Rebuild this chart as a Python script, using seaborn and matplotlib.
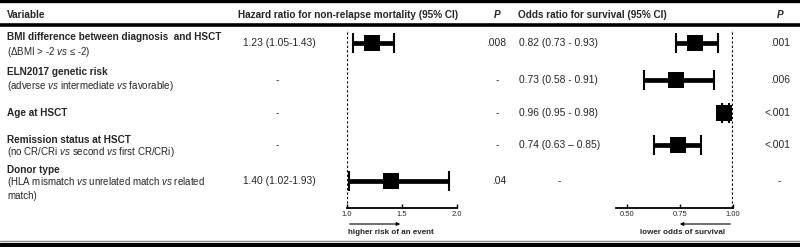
import numpy as np
import pandas as pd
import matplotlib
matplotlib.use("Agg")
import matplotlib.pyplot as plt
import seaborn as sns

variables = [
    "BMI difference between diagnosis  and HSCT",
    "ELN2017 genetic risk",
    "Age at HSCT",
    "Remission status at HSCT",
    "Donor type",
]
details = [
    r"($\Delta$BMI > -2 $\it{vs}$ ≤ -2)",
    r"(adverse $\it{vs}$ intermediate $\it{vs}$ favorable)",
    "",
    r"(no CR/CRi $\it{vs}$ second $\it{vs}$ first CR/CRi)",
    "(HLA mismatch $\\it{vs}$ unrelated match $\\it{vs}$ related\nmatch)",
]
hr_est = [1.23, np.nan, np.nan, np.nan, 1.40]
hr_lo = [1.05, np.nan, np.nan, np.nan, 1.02]
hr_hi = [1.43, np.nan, np.nan, np.nan, 1.93]
hr_text = ["1.23 (1.05-1.43)", "-", "-", "-", "1.40 (1.02-1.93)"]
hr_p = [".008", "-", "-", "-", ".04"]

or_est = [0.82, 0.73, 0.96, 0.74, np.nan]
or_lo = [0.73, 0.58, 0.95, 0.63, np.nan]
or_hi = [0.93, 0.91, 0.98, 0.85, np.nan]
or_text = ["0.82 (0.73 - 0.93)", "0.73 (0.58 - 0.91)", "0.96 (0.95 - 0.98)",
           "0.74 (0.63 \u2013 0.85)", "-"]
or_p = [".001", ".006", "<.001", "<.001", "-"]

hr_ticks = [1.0, 1.5, 2.0]
hr_ticklabels = ["1.0", "1.5", "2.0"]
or_ticks = [0.50, 0.75, 1.00]
or_ticklabels = ["0.50", "0.75", "1.00"]

# ---- layout (pixel positions on an 800x247 canvas) ----
W, H = 800, 247
row_y = [43, 80, 113, 145, 181]
title_y = [37, 72, 113, 140, 170]
detail_y = [52, 86, 0, 152, 175]


def main():
    sns.set_theme(style="white")
    plt.rcParams["font.family"] = ["Liberation Sans", "DejaVu Sans"]
    plt.rcParams["mathtext.fontset"] = "custom"
    plt.rcParams["mathtext.rm"] = "Liberation Sans"
    plt.rcParams["mathtext.it"] = "Liberation Sans:italic"
    plt.rcParams["mathtext.bf"] = "Liberation Sans:bold"

    fig = plt.figure(figsize=(8, 2.47), dpi=100)
    fig.patch.set_facecolor("white")
    bg = fig.add_axes([0, 0, 1, 1])
    bg.set_xlim(0, W)
    bg.set_ylim(H, 0)
    bg.axis("off")

    # rules
    bg.axhline(1.2, color="black", lw=2.4)
    bg.axhline(25, color="black", lw=2.6)
    bg.axhline(241, color="#888888", lw=1.0)
    bg.axhline(244.8, color="black", lw=3.6)

    fs = 7.2
    vfs = 7.4
    # header
    bg.text(7, 15, "Variable", fontsize=fs, weight="bold", va="center")
    bg.text(238, 15, "Hazard ratio for non-relapse mortality (95% CI)", fontsize=fs,
            weight="bold", va="center")
    bg.text(497, 15, "P", fontsize=fs, weight="bold", style="italic", va="center", ha="center")
    bg.text(518, 15, "Odds ratio for survival (95% CI)", fontsize=fs, weight="bold", va="center")
    bg.text(780, 15, "P", fontsize=fs, weight="bold", style="italic", va="center", ha="center")

    for i in range(len(variables)):
        bg.text(7, title_y[i], variables[i], fontsize=fs, weight="bold", va="center")
        if details[i]:
            va = "top" if "\n" in details[i] else "center"
            bg.text(7, detail_y[i], details[i], fontsize=fs - 0.2, va=va, linespacing=1.2)
        if hr_text[i] == "-":
            bg.text(277, row_y[i], "-", fontsize=fs, ha="center", va="center")
        else:
            bg.text(243, row_y[i], hr_text[i], fontsize=vfs, va="center")
        if hr_p[i] == "-":
            bg.text(497, row_y[i], "-", fontsize=fs, ha="center", va="center")
        else:
            bg.text(506, row_y[i], hr_p[i], fontsize=vfs, ha="right", va="center")
        if or_text[i] == "-":
            bg.text(559, row_y[i], "-", fontsize=fs, ha="center", va="center")
        else:
            bg.text(519, row_y[i], or_text[i], fontsize=vfs, va="center")
        if or_p[i] == "-":
            bg.text(779, row_y[i], "-", fontsize=fs, ha="center", va="center")
        else:
            bg.text(790, row_y[i], or_p[i], fontsize=vfs, ha="right", va="center")

    def px_axes(x0, x1, y0, y1):
        ax = fig.add_axes([x0 / W, 1 - y1 / H, (x1 - x0) / W, (y1 - y0) / H])
        ax.patch.set_alpha(0)
        return ax

    def forest(ax, est, lo, hi, ticks, labels):
        df = pd.DataFrame({"est": est, "lo": lo, "hi": hi, "y": row_y}).dropna()
        ax.axvline(1.0, color="black", lw=1.6, ls=(0, (1.0, 1.0)))
        ax.hlines(df["y"], df["lo"], df["hi"], color="black", lw=3.4, clip_on=False)
        ax.vlines(df["lo"], df["y"] - 10, df["y"] + 10, color="black", lw=1.5, clip_on=False)
        ax.vlines(df["hi"], df["y"] - 10, df["y"] + 10, color="black", lw=1.5, clip_on=False)
        sns.scatterplot(data=df, x="est", y="y", marker="s", s=125, color="black",
                        linewidth=0, ax=ax, clip_on=False, zorder=5)
        for s in ["left", "right", "top"]:
            ax.spines[s].set_visible(False)
        ax.spines["bottom"].set_linewidth(1.3)
        ax.spines["bottom"].set_color("black")
        ax.set_yticks([])
        ax.set_xticks(ticks)
        ax.set_xticklabels(labels)
        ax.tick_params(axis="x", direction="in", length=3, width=1.0, labelsize=5.5,
                       pad=2, color="black", bottom=True)
        ax.set_xlabel("")
        ax.set_ylabel("")

    axL = px_axes(347, 457, 30, 208)
    axL.set_xlim(1.0, 2.0)
    forest(axL, hr_est, hr_lo, hr_hi, hr_ticks, hr_ticklabels)
    axL.set_ylim(208, 30)

    axR = px_axes(616, 733, 30, 208)
    axR.set_xlim(0.45, 1.0)
    forest(axR, or_est, or_lo, or_hi, or_ticks, or_ticklabels)
    axR.set_ylim(208, 30)

    # direction arrows and captions
    arrow = dict(arrowstyle="-|>", color="black", lw=0.8, mutation_scale=5)
    bg.annotate("", xy=(403, 224), xytext=(347, 224), arrowprops=arrow)
    bg.annotate("", xy=(677, 224), xytext=(733, 224), arrowprops=arrow)
    bg.text(391, 232.5, "higher risk of an event", fontsize=5.8, weight="bold",
            ha="center", va="center")
    bg.text(683, 232.5, "lower odds of survival", fontsize=5.8, weight="bold",
            ha="center", va="center")

    fig.savefig("out.png", dpi=100, facecolor="white")
    plt.close(fig)


if __name__ == "__main__":
    main()
